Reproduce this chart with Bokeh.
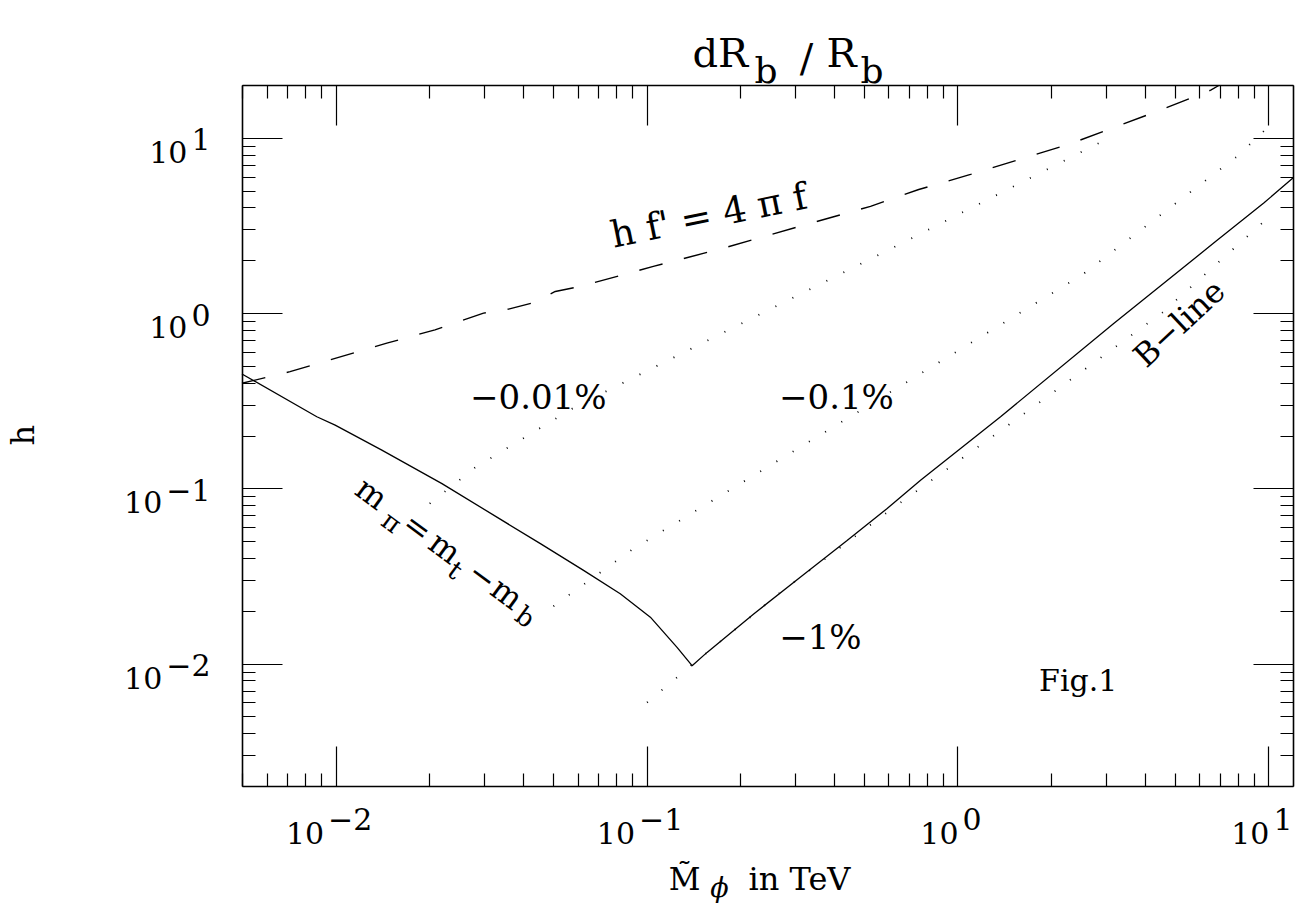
import math
from bokeh.plotting import figure
from bokeh.models import Label, FixedTicker, LogAxis, Range1d, CustomJSTickFormatter, Grid
from bokeh.embed import file_html
from bokeh.resources import INLINE

# ---------------- data ----------------
# solid curve: m_pi = m_t - m_b  (left branch) and B-line (right branch)
solid_x = [0.00498, 0.00867, 0.00993, 0.01403, 0.0219, 0.0454, 0.0625, 0.082,
           0.1025, 0.1249, 0.1396, 0.156, 0.2203, 0.311, 0.440, 0.592, 0.758,
           1.371, 3.176, 6.66, 9.65, 12.0]
solid_y = [0.452, 0.2576, 0.2306, 0.166, 0.107, 0.0486, 0.0342, 0.02515,
           0.0185, 0.01245, 0.00978, 0.01165, 0.0193, 0.0313, 0.0507, 0.0771, 0.1118,
           0.2576, 0.881, 2.53, 4.28, 5.98]

# dashed curve: h f' = 4 pi f
dash_x = [0.00498, 0.00711, 0.01456, 0.0208, 0.0298, 0.03586, 0.0427, 0.0507,
          0.061, 0.1048, 0.1786, 0.3069, 0.5233, 0.748, 1.098, 2.27, 4.555, 6.50, 6.9]
dash_y = [0.400, 0.4656, 0.677, 0.807, 1.005, 1.06, 1.147, 1.336,
          1.427, 1.857, 2.376, 3.13, 4.09, 5.10, 6.22, 9.23, 14.64, 18.8, 20.0]

# dotted contours of dR_b/R_b
c001_x = [0.02, 0.028, 0.0588, 0.6068, 2.856]          # -0.01 %
c001_y = [0.0823, 0.1322, 0.2938, 2.335, 9.436]
c01_x = [0.05, 0.0894, 0.5042, 2.512, 7.925, 9.77]     # -0.1 %
c01_y = [0.02136, 0.0449, 0.2914, 1.665, 7.91, 11.25]
c1_x = [0.1, 0.1396, 0.2731, 0.619, 1.582, 4.546, 9.61]  # -1 %
c1_y = [0.00603, 0.0099, 0.02626, 0.0778, 0.2575, 1.013, 3.334]

# axes
x_major = [0.01, 0.1, 1.0, 10.0]
x_exps = ["\u22122", "\u22121", "0", "1"]
y_major = [0.01, 0.1, 1.0, 10.0]
y_exps = ["\u22122", "\u22121", "0", "1"]
minor_mant = [2, 3, 4, 5, 6, 7, 8, 9]
minor_decades = [-3, -2, -1, 0, 1]
XMIN, XMAX = 0.005, 12.0
YMIN, YMAX = 0.002, 20.0

# ---------------- layout: the plot box inside the page ----------------
W, H = 1301, 903
BOX_L, BOX_R, BOX_T, BOX_B = 242, 1293, 85, 786
dec_x = (BOX_R - BOX_L) / math.log10(XMAX / XMIN)
dec_y = (BOX_B - BOX_T) / math.log10(YMAX / YMIN)
XL = XMIN * 10 ** (-BOX_L / dec_x)
XR = XMAX * 10 ** ((W - BOX_R) / dec_x)
YT = YMAX * 10 ** (BOX_T / dec_y)
YB = YMIN * 10 ** (-(H - BOX_B) / dec_y)

FONT = "DejaVu Serif"
p = figure(width=W, height=H, x_axis_type="log", y_axis_type="log",
           x_axis_location=None, y_axis_location=None,
           x_range=Range1d(XL, XR), y_range=Range1d(YB, YT),
           output_backend="svg", toolbar_location=None, min_border=0)
p.outline_line_color = None
p.background_fill_color = "white"
p.border_fill_color = "white"
for r in list(p.center):
    if isinstance(r, Grid):
        r.visible = False

minor_all = [m * 10.0 ** k for k in minor_decades for m in minor_mant]
for side, fixed in [("below", YMIN), ("above", YMAX), ("left", XMIN), ("right", XMAX)]:
    is_x = side in ("below", "above")
    lo, hi = (XMIN, XMAX) if is_x else (YMIN, YMAX)
    majors = [t for t in (x_major if is_x else y_major) if lo <= t <= hi]
    minors = [t for t in minor_all if lo <= t <= hi]
    ax = LogAxis(fixed_location=fixed, bounds=(lo, hi),
                 ticker=FixedTicker(ticks=majors, minor_ticks=minors),
                 formatter=CustomJSTickFormatter(code="return ''"))
    ax.major_label_text_font_size = "0px"
    ax.major_label_standoff = 0
    ax.major_tick_in = 40
    ax.major_tick_out = 0
    ax.minor_tick_in = 13
    ax.minor_tick_out = 0
    ax.major_tick_line_color = "black"
    ax.minor_tick_line_color = "black"
    ax.major_tick_line_width = 1.2
    ax.minor_tick_line_width = 1.2
    ax.axis_line_color = "black"
    ax.axis_line_width = 1.6
    p.add_layout(ax, side)

# ---------------- curves ----------------
p.line(solid_x, solid_y, line_color="black", line_width=1.3)
p.line(dash_x, dash_y, line_color="black", line_width=1.4, line_dash="24 22")
for cx, cy in [(c001_x, c001_y), (c01_x, c01_y), (c1_x, c1_y)]:
    p.line(cx, cy, line_color="black", line_width=1.8, line_dash="1 18")


def lab(x, y, text, size, dx=0, dy=0, align="center", baseline="alphabetic", angle=0.0,
        style="normal"):
    p.add_layout(Label(x=x, y=y, text=text, x_offset=dx, y_offset=dy, text_font=FONT,
                       text_font_size=f"{size}px", text_align=align, text_baseline=baseline,
                       angle=angle, text_color="black", text_font_style=style))


# ---------------- tick labels ----------------
TS = 30
DIG = 0.636 * TS
MINUS = 0.838 * TS


def exp_width(e):
    return sum(MINUS if ch == "\u2212" else DIG for ch in e)


w10 = 2 * DIG
for t, e in zip(x_major, x_exps):
    we = exp_width(e)
    r10 = -7 - (w10 + 4 + we) / 2 + w10
    lab(t, YMIN, "10", TS, dx=r10, dy=-46, align="right")
    lab(t, YMIN, e, TS, dx=r10 + 4, dy=-32, align="left")
for t, e in zip(y_major, y_exps):
    we = exp_width(e)
    lab(XMIN, t, e, TS, dx=-32, dy=-1, align="right")
    lab(XMIN, t, "10", TS, dx=-32 - we - 4, dy=-13.5, align="right")

# ---------------- titles ----------------
# title dR_b / R_b  (anchored at the box's top-left corner)
lab(XMIN, YMAX, "dR", 40, dx=692 - BOX_L, dy=BOX_T - 52, align="left")
lab(XMIN, YMAX, "b", 36, dx=754 - BOX_L, dy=BOX_T - 70, align="left")
lab(XMIN, YMAX, "/", 40, dx=806 - BOX_L, dy=BOX_T - 57, align="center")
lab(XMIN, YMAX, "R", 40, dx=826 - BOX_L, dy=BOX_T - 52, align="left")
lab(XMIN, YMAX, "b", 36, dx=860 - BOX_L, dy=BOX_T - 70, align="left")

# x axis title
lab(XMIN, YMIN, "M\u0303", 31, dx=684 - BOX_L, dy=BOX_B - 878, align="center")
lab(XMIN, YMIN, "\u03d5", 27, dx=719 - BOX_L, dy=BOX_B - 887, align="center", style="italic")
lab(XMIN, YMIN, "in TeV", 32, dx=748 - BOX_L, dy=BOX_B - 878, align="left")

# y axis title
lab(XMIN, 0.2023, "h", 32, dx=22 - BOX_L, align="center", baseline="middle", angle=math.pi / 2)

# ---------------- curve labels ----------------
lab(0.0447, 0.3337, "\u22120.01%", 34)
lab(0.4067, 0.3337, "\u22120.1%", 34)
lab(0.3612, 0.01419, "\u22121%", 34)
lab(2.436, 0.00803, "Fig.1", 30)
lab(5.148, 0.879, "B\u2212line", 32, baseline="middle", angle=math.radians(43))
lab(0.158, 3.62, "h f' = 4 \u03c0 f", 37, baseline="middle", angle=math.radians(11.5))

# m_pi = m_t - m_b, rotated downward along the left branch
ang = math.radians(36.5)
ux, uy = math.cos(ang), math.sin(ang)
nx, ny = -math.sin(ang), math.cos(ang)
pieces = [("m", 32, 0, 0), ("\u03c0", 26, 33, 11), ("=", 32, 57, 0), ("m", 32, 91, 0),
          ("t", 26, 112.6, 12), ("\u2212", 32, 138, 0), ("m", 32, 168, 0), ("b", 26, 196.7, 8)]
for txt, sz, al, nr in pieces:
    sx = al * ux + nr * nx
    sy = al * uy + nr * ny
    lab(0.01303, 0.0939, txt, sz, dx=sx, dy=-sy, baseline="middle", angle=-ang)

open("out.html", "w").write(file_html(p, INLINE))
